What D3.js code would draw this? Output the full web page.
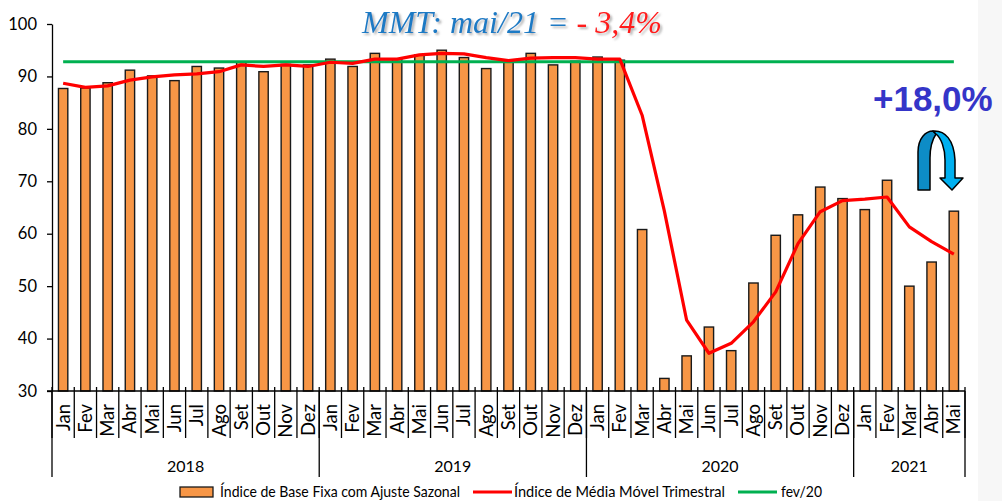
<!DOCTYPE html>
<html lang="pt">
<head>
    <meta charset="UTF-8">
    <title>Índice de Base Fixa</title>
    <script src="https://d3js.org/d3.v7.min.js"></script>
    <style>
        body { margin: 0; background: #fff; }
        text { font-family: Lato, "DejaVu Sans Condensed", sans-serif; }
    </style>
</head>
<body>
    <script>
        // categorias
        var monthNames = ["Jan","Fev","Mar","Abr","Mai","Jun","Jul","Ago","Set","Out","Nov","Dez"];
        var yearLabels = ["2018","2019","2020","2021"];
        var monthsPerYear = [12, 12, 12, 5];
        var yTicks = [30, 40, 50, 60, 70, 80, 90, 100];

        // séries
        var baseFixa = [87.7, 87.8, 88.8, 91.2, 90.1, 89.2, 91.9, 91.6, 92.8, 90.9, 92.3, 92.2,
                        93.3, 91.9, 94.4, 93.3, 94.1, 95.0, 93.6, 91.5, 92.9, 94.4, 92.2, 92.9,
                        93.7, 93.1, 60.8, 32.4, 36.7, 42.2, 37.7, 50.6, 59.7, 63.6, 68.9, 66.7,
                        64.6, 70.2, 50.0, 54.6, 64.3];
        var mediaMovel = [88.7, 87.9, 88.2, 89.3, 89.9, 90.3, 90.5, 90.9, 92.2, 91.9, 92.2, 91.9,
                          92.7, 92.5, 93.3, 93.3, 94.1, 94.4, 94.3, 93.6, 93.0, 93.5, 93.6, 93.6,
                          93.3, 93.3, 82.6, 64.3, 43.5, 37.2, 39.1, 43.2, 48.9, 58.1, 64.2, 66.3,
                          66.6, 67.0, 61.3, 58.5, 56.1];
        var fev20 = 92.8;

        var legendLabels = ["Índice de Base Fixa com Ajuste Sazonal", "Índice de Média Móvel Trimestral", "fev/20"];

        var w = 1002, h = 501;
        var svg = d3.select("body").append("svg")
            .attr("width", w)
            .attr("height", h);

        svg.append("rect").attr("x", 978).attr("y", 0).attr("width", w - 978).attr("height", h).attr("fill", "#f7f7f7");

        var cats = [];
        yearLabels.forEach(function (yr, i) {
            for (var m = 0; m < monthsPerYear[i]; m++) cats.push({ key: yr + "-" + m, month: monthNames[m], year: yr });
        });

        var x = d3.scaleBand().domain(cats.map(function (d) { return d.key; })).range([52, 965]);
        var y = d3.scaleLinear().domain([30, 100]).range([391, 24]);
        var cx = function (i) { return x(cats[i].key) + x.bandwidth() / 2; };

        // eixo y
        var yAxis = svg.append("g")
            .attr("transform", "translate(52,0)")
            .call(d3.axisLeft(y).tickValues(yTicks).tickSize(5).tickSizeOuter(0).tickPadding(10));
        yAxis.selectAll("text").style("font-size", "16.5px").attr("fill", "#000");
        yAxis.selectAll("line, path").attr("stroke", "#000").attr("stroke-width", 1.3);

        // barras
        var bw = x.bandwidth() * 0.42;
        svg.selectAll("rect.bar")
            .data(baseFixa)
            .enter().append("rect")
            .attr("class", "bar")
            .attr("x", function (d, i) { return cx(i) - bw / 2; })
            .attr("y", function (d) { return y(d); })
            .attr("width", bw)
            .attr("height", function (d) { return y(30) - y(d); })
            .attr("fill", "#f79646")
            .attr("stroke", "#1a1a1a")
            .attr("stroke-width", 1.4);

        // linha fev/20
        svg.append("line")
            .attr("x1", cx(0)).attr("x2", cx(cats.length - 1))
            .attr("y1", y(fev20)).attr("y2", y(fev20))
            .attr("stroke", "#00b050").attr("stroke-width", 3.2);

        // média móvel
        svg.append("path")
            .datum(mediaMovel)
            .attr("d", d3.line().x(function (d, i) { return cx(i); }).y(function (d) { return y(d); }))
            .attr("fill", "none").attr("stroke", "#ff0000").attr("stroke-width", 3.2)
            .attr("stroke-linejoin", "round");

        // eixo x
        svg.append("line").attr("x1", 47).attr("x2", 965).attr("y1", y(30)).attr("y2", y(30)).attr("stroke", "#000").attr("stroke-width", 1.3);
        var bounds = d3.range(cats.length + 1).map(function (i) { return 52 + i * x.step(); });
        svg.selectAll("line.sep")
            .data(bounds)
            .enter().append("line")
            .attr("x1", function (d) { return d; }).attr("x2", function (d) { return d; })
            .attr("y1", 387).attr("y2", 438)
            .attr("stroke", "#000").attr("stroke-width", 1.3);

        var yearBounds = [0];
        monthsPerYear.forEach(function (n, i) { yearBounds.push(yearBounds[i] + n); });
        svg.selectAll("line.ysep")
            .data(yearBounds)
            .enter().append("line")
            .attr("x1", function (d) { return bounds[d]; }).attr("x2", function (d) { return bounds[d]; })
            .attr("y1", 391).attr("y2", 477)
            .attr("stroke", "#000").attr("stroke-width", 1.3);

        svg.selectAll("text.month")
            .data(cats)
            .enter().append("text")
            .attr("transform", function (d, i) { return "translate(" + (cx(i) + 6.5) + ",404) rotate(-90)"; })
            .attr("text-anchor", "end")
            .style("font-size", "18.5px")
            .text(function (d) { return d.month; });

        svg.selectAll("text.year")
            .data(yearLabels)
            .enter().append("text")
            .attr("x", function (d, i) { return (bounds[yearBounds[i]] + bounds[yearBounds[i + 1]]) / 2; })
            .attr("y", 472)
            .attr("text-anchor", "middle")
            .style("font-size", "16px")
            .text(function (d) { return d; });

        // título
        var defs = svg.append("defs");
        defs.append("filter").attr("id", "sombra")
            .append("feDropShadow").attr("dx", 2).attr("dy", 2).attr("stdDeviation", 1)
            .attr("flood-color", "#777").attr("flood-opacity", 0.55);
        var title = svg.append("text")
            .attr("x", 362).attr("y", 33)
            .attr("filter", "url(#sombra)")
            .style("font-family", "'Liberation Serif', serif")
            .style("font-style", "italic")
            .style("font-size", "32px");
        title.append("tspan").attr("fill", "#1f7ac4").text("MMT: mai/21 = ");
        title.append("tspan").attr("fill", "#ff1a1a").text("- 3,4%");

        // anotação
        svg.append("text")
            .attr("x", 873).attr("y", 111)
            .style("font-family", "'Liberation Sans', Arial, sans-serif")
            .style("font-weight", "bold")
            .style("font-size", "35px")
            .attr("fill", "#3535c8")
            .text("+18,0%");

        svg.append("path")
            .attr("d", "M918,190 L918,152 C918,138 926,131 933,131 L936,134 C932,140 930,150 930,158 L930,190 Z")
            .attr("fill", "#0d8cc6").attr("stroke", "#000").attr("stroke-width", 1.5).attr("stroke-linejoin", "round");
        svg.append("path")
            .attr("d", "M933,131 C945,130 954,140 955,160 L955,178 L963,178 L952,190 L940,178 L945,178 L945,160 C945,148 941,138 936,134 Z")
            .attr("fill", "#00b0f0").attr("stroke", "#000").attr("stroke-width", 1.5).attr("stroke-linejoin", "round");

        // legenda
        var leg = svg.append("g");
        leg.append("rect").attr("x", 180).attr("y", 487).attr("width", 33).attr("height", 10)
            .attr("fill", "#f79646").attr("stroke", "#1a1a1a").attr("stroke-width", 1.3);
        leg.append("text").attr("x", 220).attr("y", 497).style("font-size", "16px")
            .attr("textLength", 240).attr("lengthAdjust", "spacingAndGlyphs").text(legendLabels[0]);
        leg.append("line").attr("x1", 473).attr("x2", 512).attr("y1", 492).attr("y2", 492).attr("stroke", "#ff0000").attr("stroke-width", 3);
        leg.append("text").attr("x", 514).attr("y", 497).style("font-size", "16px")
            .attr("textLength", 211).attr("lengthAdjust", "spacingAndGlyphs").text(legendLabels[1]);
        leg.append("line").attr("x1", 738).attr("x2", 777).attr("y1", 492).attr("y2", 492).attr("stroke", "#00b050").attr("stroke-width", 3);
        leg.append("text").attr("x", 781).attr("y", 497).style("font-size", "16px")
            .attr("textLength", 41).attr("lengthAdjust", "spacingAndGlyphs").text(legendLabels[2]);
    </script>
</body>
</html>
